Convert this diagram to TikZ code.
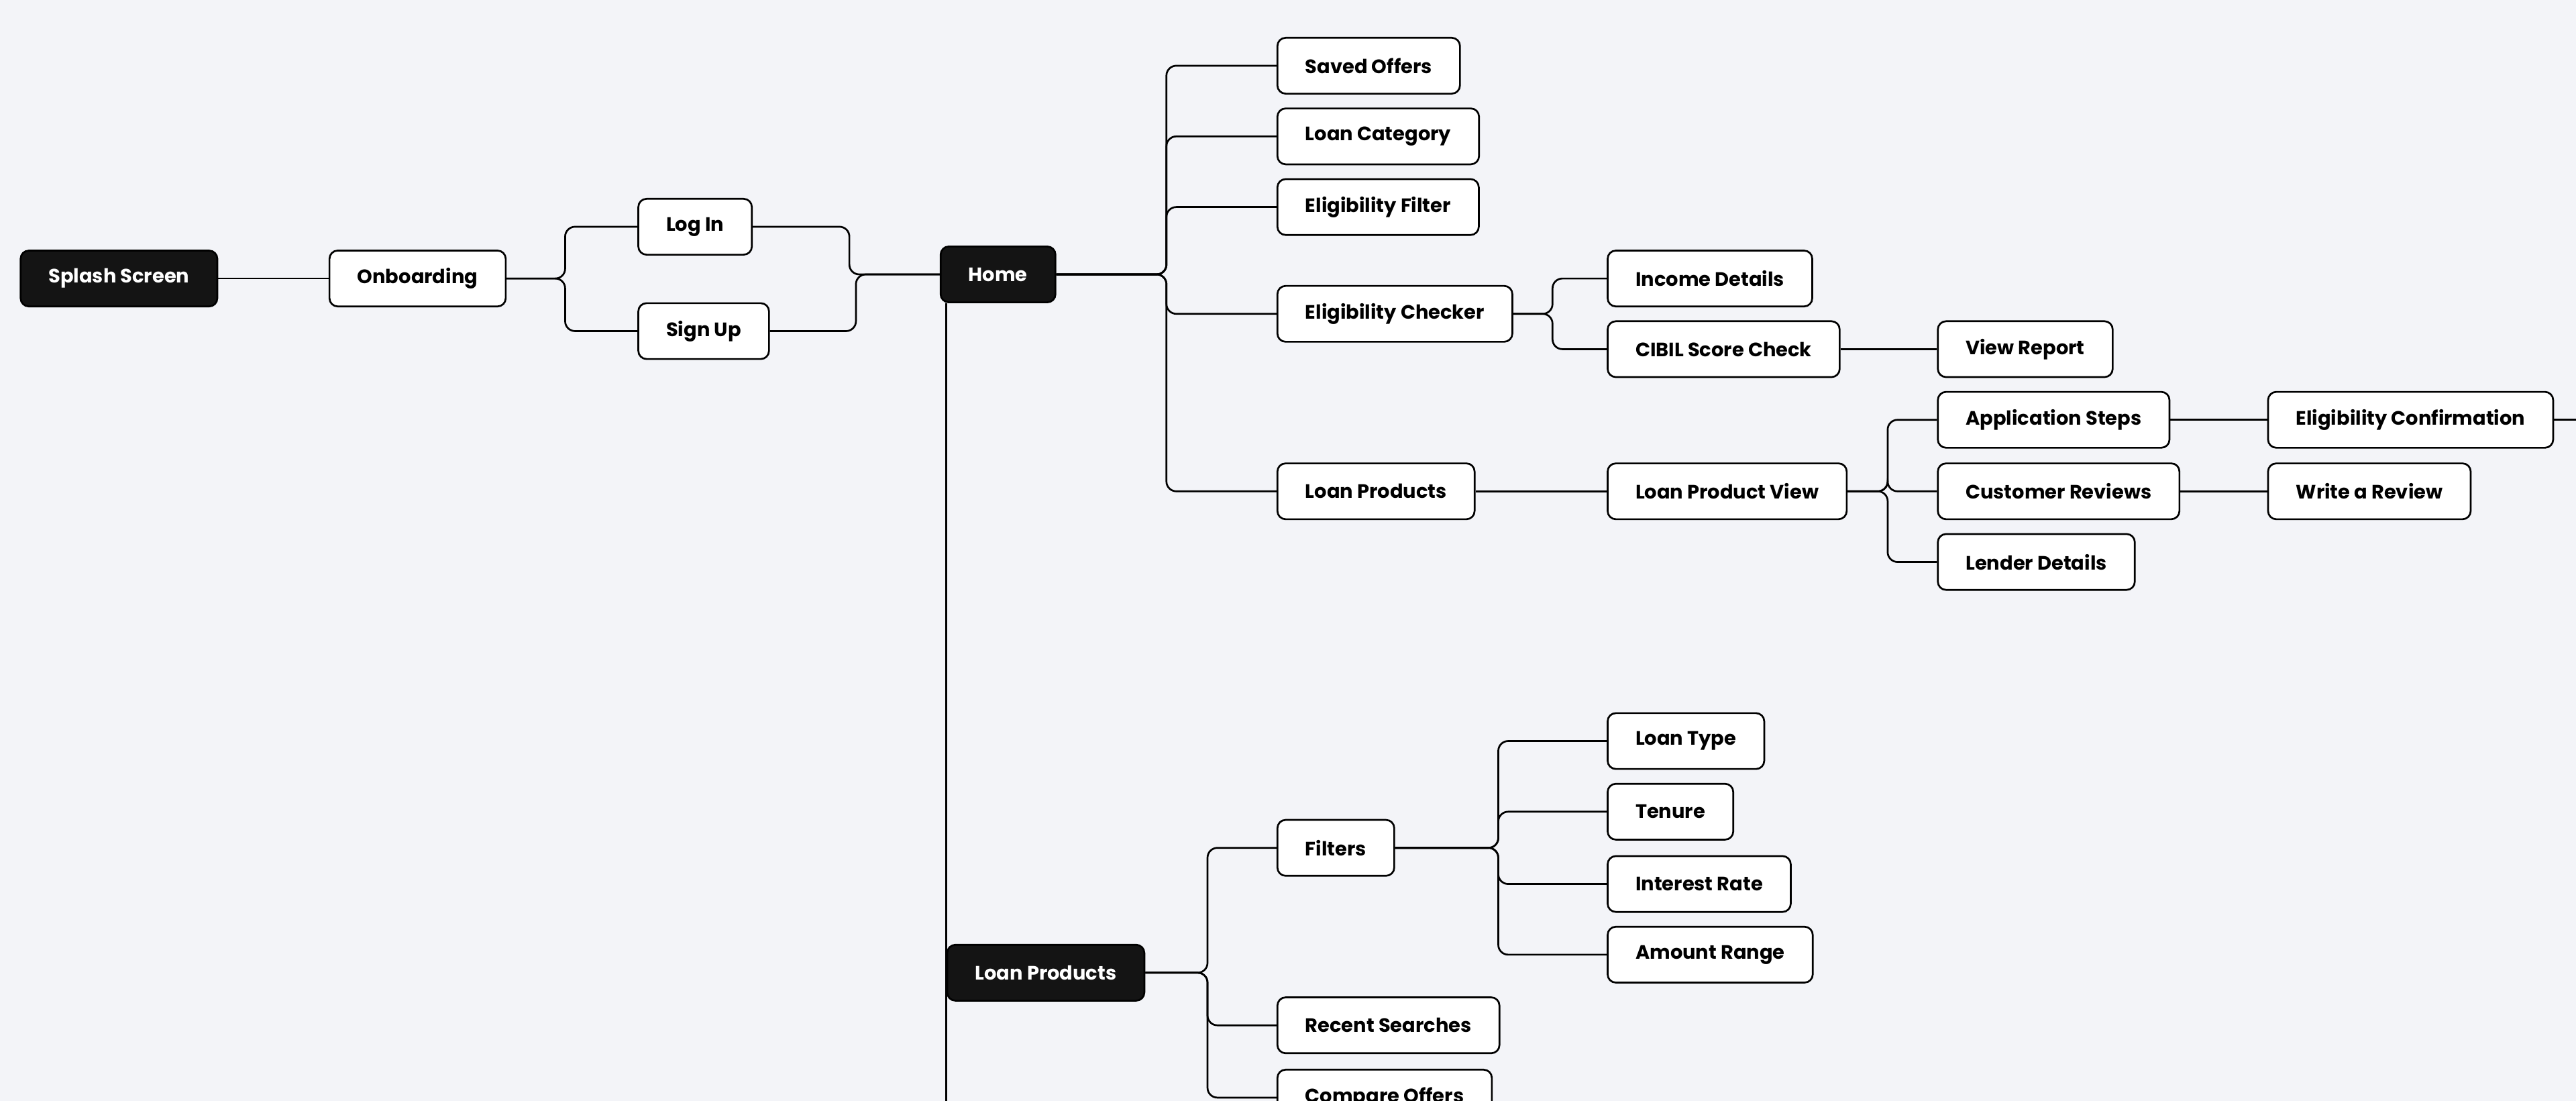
\documentclass[tikz,border=0pt]{standalone}
\usepackage{fontspec}
\setmainfont{Poppins}[BoldFont={* Bold}]
\begin{document}
\begin{tikzpicture}[x=1pt,y=-1pt,
  box/.style={draw=black,line width=1.1pt,fill=white,rounded corners=5pt,minimum height=34pt,inner xsep=17pt,anchor=west,font=\fontsize{11.8}{12}\selectfont\bfseries,text=black},
  dark/.style={box,fill=black!92,text=white},
  conn/.style={line width=1.1pt,rounded corners=6pt}]
\fill[fill={rgb,255:red,243;green,244;blue,248}] (0,0) rectangle (1568,670);
\useasboundingbox (0,0) rectangle (1568,670);
% bus coordinates
\coordinate (b1) at (344,0);
\coordinate (b2) at (517,0);
\coordinate (b3) at (521,0);
\coordinate (b4) at (710,0);
\coordinate (b5) at (945,0);
\coordinate (b6) at (1149,0);
\coordinate (b7) at (735,0);
\coordinate (b8) at (912,0);
\coordinate (tr) at (576,0);
\coordinate (bot) at (576,670);
\coordinate (rend) at (1568,255.5);
% nodes
\node[dark] (splash) at (12,169.5) {Splash Screen};
\node[box] (onb) at (200,169.5) {Onboarding};
\node[box] (login) at (388,138) {Log In};
\node[box] (signup) at (388,201.5) {Sign Up};
\node[dark] (home) at (572,167) {Home};
\node[box] (saved) at (777,40) {Saved Offers};
\node[box] (lcat) at (777,83) {Loan Category};
\node[box] (efil) at (777,126) {Eligibility Filter};
\node[box] (echk) at (777,191) {Eligibility Checker};
\node[box] (lprod) at (777,299) {Loan Products};
\node[box] (inc) at (978,169.5) {Income Details};
\node[box] (cibil) at (978,212.5) {CIBIL Score Check};
\node[box] (vrep) at (1179,212.5) {View Report};
\node[box] (lpv) at (978,299) {Loan Product View};
\node[box] (apps) at (1179,255.5) {Application Steps};
\node[box] (crev) at (1179,299) {Customer Reviews};
\node[box] (lend) at (1179,342) {Lender Details};
\node[box] (econf) at (1380,255.5) {Eligibility Confirmation};
\node[box] (wrev) at (1380,299) {Write a Review};
\node[dark] (lp2) at (576,592) {Loan Products};
\node[box] (filt) at (777,516) {Filters};
\node[box] (ltype) at (978,451) {Loan Type};
\node[box] (ten) at (978,494) {Tenure};
\node[box] (irate) at (978,538) {Interest Rate};
\node[box] (amt) at (978,581) {Amount Range};
\node[box] (rsrch) at (777,624) {Recent Searches};
\node[box] (cmp) at (777,668) {Compare Offers};
% connectors
\draw[conn] (splash) -- (onb);
\foreach \c in {login,signup} \draw[conn] (onb.east) -- (onb.east -| b1) |- (\c.west);
\draw[conn] (login.east) -- (login.east -| b2) |- (home.west);
\draw[conn] (signup.east) -- (signup.east -| b3) |- (home.west);
\foreach \c in {saved,lcat,efil,echk,lprod} \draw[conn] (home.east) -- (home.east -| b4) |- (\c.west);
\foreach \c in {inc,cibil} \draw[conn] (echk.east) -- (echk.east -| b5) |- (\c.west);
\draw[conn] (cibil) -- (vrep);
\draw[conn] (lprod) -- (lpv);
\foreach \c in {apps,crev,lend} \draw[conn] (lpv.east) -- (lpv.east -| b6) |- (\c.west);
\draw[conn] (apps) -- (econf);
\draw[conn] (crev) -- (wrev);
\draw[conn] (econf) -- (rend);
\draw[conn] (home.south -| tr) -- (bot);
\foreach \c in {filt,rsrch,cmp} \draw[conn] (lp2.east) -- (lp2.east -| b7) |- (\c.west);
\foreach \c in {ltype,ten,irate,amt} \draw[conn] (filt.east) -- (filt.east -| b8) |- (\c.west);
\end{tikzpicture}
\end{document}
